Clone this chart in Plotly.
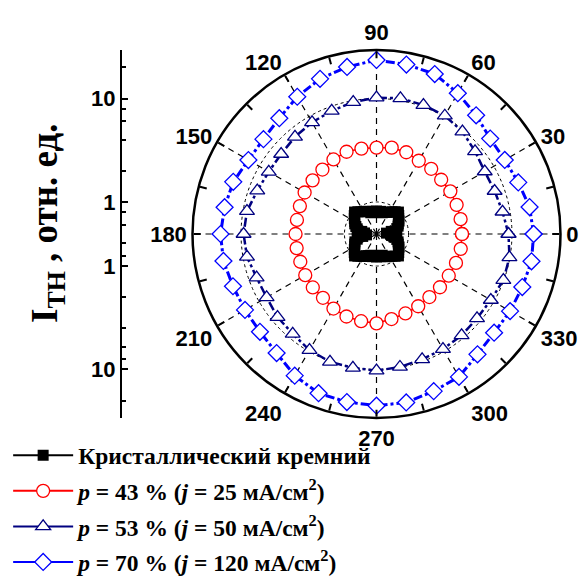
import plotly.graph_objects as go

# ---------------- data ----------------
ang10 = list(range(0, 360, 10))
ang5 = list(range(0, 360, 5))

# Crystalline silicon (every 5 degrees)
r_si = [0.669, 0.612, 0.684, 0.782, 0.817, 0.836, 0.874, 0.894, 0.934, 0.977,
        0.934, 0.894, 0.855, 0.836, 0.817, 0.799, 0.817, 0.799, 0.817, 0.799,
        0.817, 0.799, 0.836, 0.855, 0.874, 0.894, 0.934, 0.977, 0.934, 0.894,
        0.855, 0.836, 0.799, 0.765, 0.684, 0.640, 0.654, 0.612, 0.669, 0.765,
        0.817, 0.836, 0.855, 0.894, 0.934, 0.977, 0.934, 0.894, 0.874, 0.836,
        0.817, 0.799, 0.817, 0.799, 0.817, 0.799, 0.817, 0.799, 0.836, 0.855,
        0.874, 0.894, 0.934, 0.977, 0.934, 0.894, 0.874, 0.836, 0.817, 0.782,
        0.731, 0.684]

# p = 43 %
r_43 = [3.29, 3.28, 3.27, 3.27, 3.21, 3.26, 3.22, 3.40, 3.45, 3.35,
        3.38, 3.44, 3.33, 3.19, 3.14, 3.11, 3.01, 2.96, 2.97, 2.98,
        2.98, 3.06, 3.12, 3.13, 3.33, 3.46, 3.52, 3.58, 3.35, 3.22,
        3.14, 3.06, 3.10, 3.14, 3.22, 3.29]

# p = 53 %
r_53 = [9.26, 8.47, 8.05, 7.92, 8.59, 9.62, 10.26, 10.40, 10.54, 10.20,
        9.68, 9.06, 8.64, 8.25, 7.83, 7.82, 8.26, 9.16, 9.45, 9.16,
        8.39, 8.26, 8.70, 8.93, 9.68, 10.12, 10.10, 10.28, 9.90, 9.55,
        9.45, 9.34, 9.10, 9.26, 9.90, 9.90]

# p = 70 %
r_70 = [16.2, 15.6, 14.1, 13.25, 13.35, 15.45, 18.3, 21.7, 22.6, 23.6,
        21.4, 19.35, 16.7, 14.2, 13.1, 13.2, 14.6, 15.2, 15.8, 15.6,
        14.7, 14.4, 14.5, 15.6, 18.7, 21.3, 21.9, 22.4, 22.1, 20.3,
        19.3, 16.2, 14.95, 15.2, 15.5, 16.3]

names = ["Кристаллический кремний",
         "<i>p</i> = 43 % (<i>j</i> = 25 мА/см<sup>2</sup>)",
         "<i>p</i> = 53 % (<i>j</i> = 50 мА/см<sup>2</sup>)",
         "<i>p</i> = 70 % (<i>j</i> = 120 мА/см<sup>2</sup>)"]

angle_ticks = list(range(0, 360, 15))
angle_labels = [str(a) if a % 30 == 0 else "" for a in angle_ticks]
spoke_angles = list(range(0, 360, 30))
radial_grid = [1, 10]
left_major = [1, 10]
left_minor = [0.6, 0.8, 2, 4, 6, 8, 20]

R_LOG = [-0.31, 1.4695]

# ---------------- figure ----------------
fig = go.Figure()

rmin, rmax = 10 ** R_LOG[0], 10 ** R_LOG[1]
sp_r, sp_t = [], []
for a in spoke_angles:
    sp_r += [rmin, rmax, None]
    sp_t += [a, a, None]
fig.add_trace(go.Scatterpolar(r=sp_r, theta=sp_t, mode="lines",
                              line=dict(color="black", width=1.2, dash="6px,5px"),
                              showlegend=False, hoverinfo="skip"))

series = [
    (r_si, ang5, "black", 2, "solid",
     dict(symbol="square", size=11, color="black")),
    (r_43, ang10, "red", 1.5, "solid",
     dict(symbol="circle", size=13, color="white", line=dict(width=1.3, color="red"))),
    (r_53, ang10, "#000080", 2.5, "dashdot",
     dict(symbol="triangle-up", size=13, color="white", line=dict(width=1.3, color="#000080"))),
    (r_70, ang10, "#0000FF", 3, "dashdot",
     dict(symbol="diamond", size=13, color="white", line=dict(width=1.3, color="#0000FF"))),
]

for i, (rv, th, col, lw, dash, mk) in enumerate(series):
    fig.add_trace(go.Scatterpolar(r=rv + rv[:1], theta=th + th[:1], name=names[i],
                                  legendgroup="g%d" % i, showlegend=False,
                                  mode="lines+markers",
                                  line=dict(color=col, width=lw, dash=dash), marker=mk))
# legend entries (solid lines, like the original legend)
for i, (rv, th, col, lw, dash, mk) in enumerate(series):
    fig.add_trace(go.Scatterpolar(r=[None], theta=[None], name=names[i],
                                  legendgroup="g%d" % i, showlegend=True,
                                  mode="lines+markers",
                                  line=dict(color=col, width=2), marker=mk))

# empty traces so the left cartesian axes are drawn
fig.add_trace(go.Scatter(x=[], y=[], xaxis="x", yaxis="y", showlegend=False))
fig.add_trace(go.Scatter(x=[], y=[], xaxis="x", yaxis="y2", showlegend=False))

tickfont = dict(family="Liberation Sans", size=22, color="black", weight="bold")

W, H = 582, 578
cx, cy, R = 376.5, 234.0, 184.0
pol_x = [(cx - R) / W, (cx + R) / W]
pol_y = [(H - cy - R) / H, (H - cy + R) / H]
mid_y = (H - cy) / H

left_axis = dict(type="log", anchor="free", position=121 / W,
                 tickmode="array", tickvals=left_major, ticktext=[str(v) for v in left_major],
                 ticks="inside", ticklen=6, tickwidth=1.5, tickcolor="black",
                 showline=True, linecolor="black", linewidth=2, showgrid=False,
                 zeroline=False, tickfont=tickfont,
                 minor=dict(tickmode="array", tickvals=left_minor, ticks="inside",
                            ticklen=4, tickwidth=1.5, tickcolor="black", showgrid=False))

fig.update_layout(
    width=W, height=H, autosize=False,
    margin=dict(l=0, r=0, t=0, b=0, autoexpand=False),
    paper_bgcolor="white", plot_bgcolor="white",
    polar=dict(
        domain=dict(x=pol_x, y=pol_y),
        bgcolor="white",
        angularaxis=dict(rotation=0, direction="counterclockwise",
                         tickmode="array", tickvals=angle_ticks, ticktext=angle_labels,
                         ticks="inside", ticklen=7, tickwidth=1.5, tickcolor="black",
                         showline=True, linecolor="black", linewidth=2.5,
                         showgrid=False, tickfont=tickfont),
        radialaxis=dict(type="log", range=R_LOG, tickmode="array", tickvals=radial_grid,
                        showticklabels=False, ticks="", showline=False,
                        showgrid=True, gridcolor="black", gridwidth=1, griddash="dot"),
    ),
    xaxis=dict(visible=False, domain=[0.0, 0.01], range=[0, 1]),
    yaxis=dict(range=R_LOG, domain=[mid_y, pol_y[1]], **left_axis),
    yaxis2=dict(range=[R_LOG[1], R_LOG[0]], domain=[pol_y[0], mid_y], **left_axis),
    legend=dict(x=0.014, y=0.25, xanchor="left", yanchor="top",
                bgcolor="rgba(0,0,0,0)", itemwidth=60, tracegroupgap=2,
                font=dict(family="Liberation Serif", size=23.5, color="black", weight="bold")),
    annotations=[dict(text="I<sub>TH</sub> , отн. ед.", textangle=-90,
                      x=47 / W, y=(H - 223) / H, xref="paper", yref="paper",
                      xanchor="center", yanchor="middle", showarrow=False,
                      font=dict(family="Liberation Serif", size=37, color="black",
                                weight="bold"))],
)

fig.write_html("out.html")
